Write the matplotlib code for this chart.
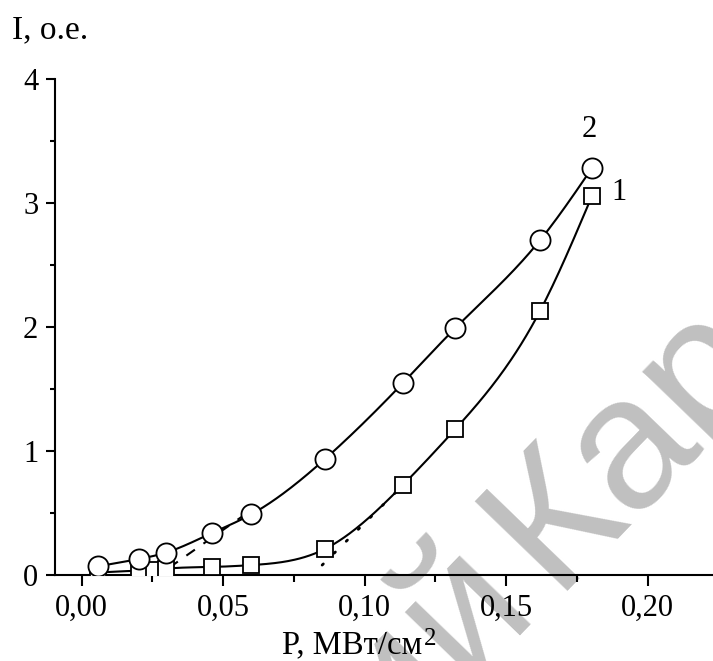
import numpy as np
import matplotlib
matplotlib.use("Agg")
import matplotlib.pyplot as plt
from matplotlib.ticker import MultipleLocator, FuncFormatter

# curve 2 (circles)
power_circles = [0.0058, 0.0204, 0.0297, 0.0462, 0.0600, 0.0860, 0.1134, 0.1320, 0.1620, 0.1803]
intensity_circles = [0.07, 0.13, 0.18, 0.34, 0.49, 0.935, 1.545, 1.99, 2.70, 3.28]

# curve 1 (squares)
power_squares = [0.0058, 0.0204, 0.0255, 0.0297, 0.0462, 0.0600, 0.0860, 0.1135, 0.1320, 0.1620, 0.1804]
intensity_squares = [0.02, 0.035, 0.04, 0.05, 0.065, 0.08, 0.21, 0.725, 1.175, 2.13, 3.06]

# guide lines
dashed_power = [0.031, 0.061]
dashed_intensity = [0.06, 0.54]
dotted_power = [0.085, 0.1136]
dotted_intensity = [0.08, 0.725]

x_ticks = [0.00, 0.05, 0.10, 0.15, 0.20]
y_ticks = [0, 1, 2, 3, 4]


def natural_spline(x, y, n=300):
    """Smooth curve through the points (natural cubic spline)."""
    x = np.asarray(x, float)
    y = np.asarray(y, float)
    k = len(x)
    h = np.diff(x)
    A = np.zeros((k, k))
    b = np.zeros(k)
    A[0, 0] = A[-1, -1] = 1.0
    for i in range(1, k - 1):
        A[i, i - 1] = h[i - 1]
        A[i, i] = 2 * (h[i - 1] + h[i])
        A[i, i + 1] = h[i]
        b[i] = 3 * ((y[i + 1] - y[i]) / h[i] - (y[i] - y[i - 1]) / h[i - 1])
    c = np.linalg.solve(A, b)
    xs = np.linspace(x[0], x[-1], n)
    idx = np.clip(np.searchsorted(x, xs) - 1, 0, k - 2)
    dx = xs - x[idx]
    bb = (y[idx + 1] - y[idx]) / h[idx] - h[idx] * (2 * c[idx] + c[idx + 1]) / 3
    dd = (c[idx + 1] - c[idx]) / (3 * h[idx])
    ys = y[idx] + bb * dx + c[idx] * dx ** 2 + dd * dx ** 3
    return xs, ys


plt.rcParams["font.family"] = ["Liberation Serif", "DejaVu Serif"]

fig = plt.figure(figsize=(7.13, 6.61), dpi=100)
ax = fig.add_axes([0.0771, 0.1301, 0.9229, 0.7504])
ax.set_facecolor("none")

# watermark behind the axes
wm = dict(rotation=46, rotation_mode="anchor", va="baseline", fontsize=135,
          color="#c0c0c0", family="Liberation Sans", zorder=-1)
fig.text(553 / 713, 1 - 591.3 / 661, "Кар", ha="left", **wm)
fig.text(536.5 / 713, 1 - 604.8 / 661, "ий", ha="right", **wm)

sx, sy = natural_spline(power_circles, intensity_circles)
ax.plot(sx, sy, color="black", lw=1.5, zorder=2)
sx, sy = natural_spline(power_squares, intensity_squares)
ax.plot(sx, sy, color="black", lw=1.5, zorder=2)

ax.plot(dashed_power, dashed_intensity, color="black", lw=1.5,
        linestyle=(0, (5, 5)), zorder=2)
ax.plot(dotted_power, dotted_intensity, color="black", lw=2,
        linestyle=(0, (0.6, 5.5)), dash_capstyle="round", zorder=2)

ax.plot(power_squares, intensity_squares, linestyle="none", marker="s",
        markersize=12, markerfacecolor="white", markeredgecolor="black",
        markeredgewidth=1.3, zorder=3)
ax.plot(power_circles, intensity_circles, linestyle="none", marker="o",
        markersize=14.5, markerfacecolor="white", markeredgecolor="black",
        markeredgewidth=1.3, zorder=4)

ax.annotate("2", (power_circles[-1], intensity_circles[-1]), xytext=(-2, 28),
            textcoords="offset points", ha="center", va="center", fontsize=22)
ax.annotate("1", (power_squares[-1], intensity_squares[-1]), xytext=(19, 2),
            textcoords="offset points", ha="center", va="center", fontsize=22)

ax.set_xlim(-0.0094, 0.2231)
ax.set_ylim(0, 4)
ax.set_xticks(x_ticks)
ax.set_yticks(y_ticks)
ax.xaxis.set_minor_locator(MultipleLocator(0.025))
ax.yaxis.set_minor_locator(MultipleLocator(0.5))
ax.xaxis.set_major_formatter(FuncFormatter(lambda v, p: f"{v:.2f}".replace(".", ",")))
ax.yaxis.set_major_formatter(FuncFormatter(lambda v, p: f"{v:.0f}"))

for side in ("top", "right"):
    ax.spines[side].set_visible(False)
for side in ("left", "bottom"):
    ax.spines[side].set_linewidth(1.5)

ax.tick_params(axis="x", which="major", direction="out", length=8, width=1.5,
               labelsize=22, pad=5.5)
ax.tick_params(axis="x", which="minor", direction="out", length=5, width=1.5)
ax.tick_params(axis="y", which="major", direction="out", length=6.5, width=1.5,
               labelsize=22, pad=5.5)
ax.tick_params(axis="y", which="minor", direction="out", length=3.5, width=1.5)

ax.set_xlabel("P, МВт/см", fontsize=23.5, va="baseline", ha="left")
ax.xaxis.set_label_coords(0.345, -0.157)
ax.annotate("2", xy=(1, 0), xycoords=ax.xaxis.label, xytext=(1, 11),
            textcoords="offset points", ha="left", va="baseline", fontsize=18)
ax.set_ylabel("I, о.е.", fontsize=24, rotation=0, ha="left", va="baseline")
ax.yaxis.set_label_coords(-0.065, 1.083)

fig.savefig("out.png", dpi=100)
